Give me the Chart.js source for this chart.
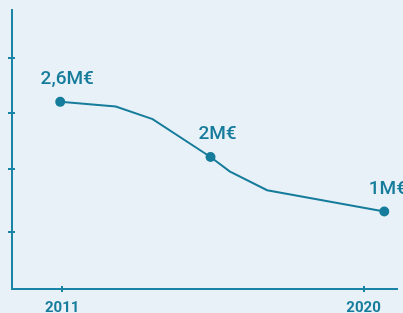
<!DOCTYPE html>
<html>
<head>
<meta charset="utf-8">
<script src="https://cdn.jsdelivr.net/npm/chart.js@4"></script>
<style>
  html, body { margin: 0; padding: 0; background: #e9f1f8; }
  #wrap { width: 403px; height: 313px; }
</style>
</head>
<body>
<div id="wrap"><canvas id="chart"></canvas></div>
<script>
// data (x in years, y in axis units)
const years   = [2010.94, 2012.6, 2013.7, 2015.43, 2016.0, 2017.12, 2020.62];
const amounts = [3.26, 3.18, 2.96, 2.30, 2.05, 1.72, 1.35];
// which points get a dot and a label
const markedIdx   = [0, 3, 6];
const pointLabels = ["2,6M€", "2M€", "1M€"];
// axis ticks
const xTicks = [2011, 2020];
const xTickLabels = ["2011", "2020"];
const yTicks = [1.0, 2.09, 3.07, 4.02];

const TEAL = "#167c9b";
const AXIS = "#1a84a6";

// draws tick marks crossing the axes, x labels and the point labels
const decor = {
    id: "decor",
    afterDraw(chart) {
        const c = chart.ctx;
        const xs = chart.scales.x, ys = chart.scales.y;
        const area = chart.chartArea;
        c.save();
        c.strokeStyle = AXIS;
        c.lineWidth = 2;
        yTicks.forEach((v) => {
            const py = Math.round(ys.getPixelForValue(v));
            c.beginPath();
            c.moveTo(area.left - 4, py);
            c.lineTo(area.left + 3, py);
            c.stroke();
        });
        xTicks.forEach((v) => {
            const px = Math.round(xs.getPixelForValue(v));
            c.beginPath();
            c.moveTo(px, area.bottom - 3);
            c.lineTo(px, area.bottom + 3);
            c.stroke();
        });

        c.fillStyle = TEAL;
        c.textAlign = "center";
        c.textBaseline = "alphabetic";
        c.font = "bold 15px Roboto";
        xTicks.forEach((v, i) => {
            c.fillText(xTickLabels[i], xs.getPixelForValue(v), 312);
        });

        c.font = "500 19px Roboto";
        const meta = chart.getDatasetMeta(0);
        markedIdx.forEach((idx, i) => {
            const pt = meta.data[idx];
            const w = c.measureText(pointLabels[i]).width;
            let cx = pt.x + 7;
            cx = Math.min(cx, chart.width - w / 2 + 4);
            c.fillText(pointLabels[i], cx, pt.y - 18);
        });
        c.restore();
    }
};

new Chart(document.getElementById("chart"), {
    type: "line",
    data: {
        datasets: [{
            data: years.map((x, i) => ({ x: x, y: amounts[i] })),
            borderColor: TEAL,
            backgroundColor: TEAL,
            borderWidth: 2,
            tension: 0,
            pointRadius: (ctx) => markedIdx.includes(ctx.dataIndex) ? 4 : 0,
            pointHoverRadius: 4,
            clip: false
        }]
    },
    options: {
        responsive: true,
        maintainAspectRatio: false,
        animation: false,
        layout: { padding: { left: 4, top: 10, right: 4, bottom: 16 } },
        plugins: { legend: { display: false }, tooltip: { enabled: false } },
        scales: {
            x: {
                type: "linear",
                min: 2009.5,
                max: 2021,
                ticks: { display: false },
                grid: { display: false },
                border: { display: true, color: AXIS, width: 2 }
            },
            y: {
                min: 0,
                max: 4.86,
                ticks: { display: false },
                grid: { display: false },
                border: { display: true, color: AXIS, width: 2 }
            }
        }
    },
    plugins: [decor]
});
</script>
</body>
</html>
